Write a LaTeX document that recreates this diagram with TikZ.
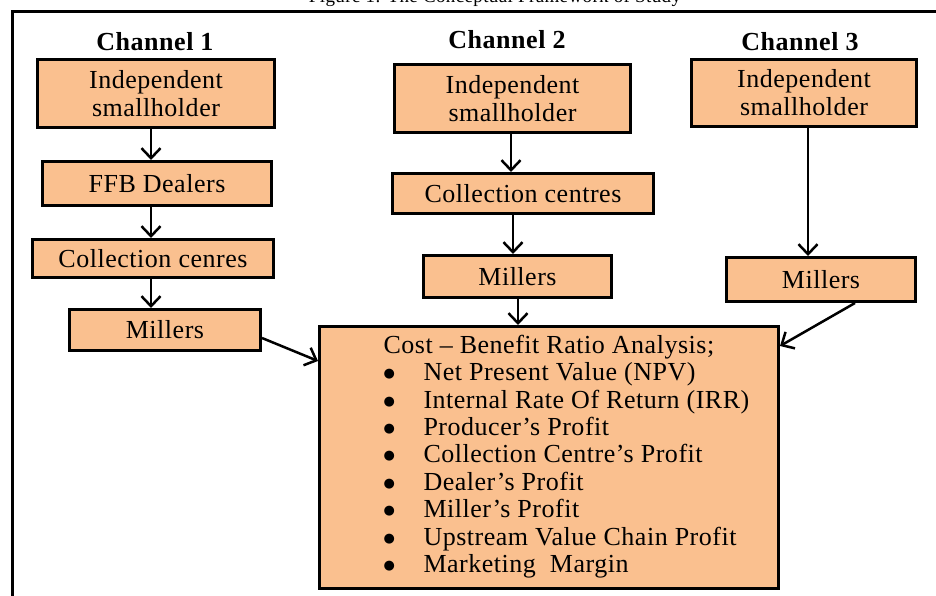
\documentclass[tikz,border=0pt]{standalone}
\usepackage{fontspec}
\setmainfont{Liberation Serif}[LetterSpace=2]
\newfontfamily\symfont{DejaVu Sans}
\usetikzlibrary{arrows.meta, positioning}
\definecolor{peach}{RGB}{250,192,143}
\newcommand{\bigdot}{\makebox[40pt][l]{\raisebox{3pt}{\symfont\fontsize{13}{13}\selectfont ●}}}

\begin{document}
\begin{tikzpicture}[x=1pt, y=-1pt,
    stage/.style={rectangle, draw=black, line width=3pt, fill=peach, inner sep=0pt, align=center, font=\fontsize{26}{28}\selectfont},
    result/.style={rectangle, draw=black, line width=3pt, fill=peach, inner sep=0pt, font=\fontsize{26}{27.4}\selectfont},
    channel/.style={font=\fontsize{26}{28}\selectfont\bfseries},
    arrow/.style={-{Straight Barb[length=10pt, width=19pt]}, line width=2.5pt}
]
\useasboundingbox (0,0) rectangle (936,596);
\clip (0,0) rectangle (936,596);

% ==== Frame and caption ====
\node[font=\fontsize{19}{20}\selectfont, anchor=base] (title) at (495,3) {Figure 1: The Conceptual Framework of Study};
\draw[line width=3pt] (12,12) rectangle (980,640);

% ==== Channel 1 ====
\node[channel] (lbl1) at (155,42) {Channel 1};
\node[stage, minimum width=237pt, minimum height=68pt] (ind1) at (156,93.5) {Independent\\smallholder};
\node[stage, minimum width=229pt, minimum height=44pt] (ffb) at (157,183.5) {FFB Dealers};
\node[stage, minimum width=241pt, minimum height=38pt] (col1) at (153,258.5) {Collection cenres};
\node[stage, minimum width=191pt, minimum height=41pt] (mil1) at (165,330) {Millers};

% ==== Channel 2 ====
\node[channel] (lbl2) at (507,40) {Channel 2};
\node[stage, minimum width=236pt, minimum height=68pt] (ind2) at (512.5,98.5) {Independent\\smallholder};
\node[stage, minimum width=261pt, minimum height=40pt] (col2) at (523,193.5) {Collection centres};
\node[stage, minimum width=188pt, minimum height=42pt] (mil2) at (517.5,276.5) {Millers};

% ==== Channel 3 ====
\node[channel] (lbl3) at (800,42) {Channel 3};
\node[stage, minimum width=225pt, minimum height=67pt] (ind3) at (804,93) {Independent\\smallholder};
\node[stage, minimum width=189pt, minimum height=44pt] (mil3) at (821,279.5) {Millers};

% ==== Analysis ====
\node[result, minimum width=459pt, minimum height=262pt] (cba) at (549,457.5) {%
\begin{tabular}{@{\hspace{61pt}}p{392pt}@{}}
Cost – Benefit Ratio Analysis;\\
\bigdot Net Present Value (NPV)\\
\bigdot Internal Rate Of Return (IRR)\\
\bigdot Producer’s Profit\\
\bigdot Collection Centre’s Profit\\
\bigdot Dealer’s Profit\\
\bigdot Miller’s Profit\\
\bigdot Upstream Value Chain Profit\\
\bigdot Marketing~ Margin
\end{tabular}};

% ==== Relations ====
\coordinate (c1) at (151,0);
\coordinate (c2a) at (511,0);
\coordinate (c2b) at (513,0);
\coordinate (c2c) at (518,0);
\coordinate (c3) at (808,0);
\draw[arrow] (ind1.south -| c1) -- (ffb.north -| c1);
\draw[arrow] (ffb.south -| c1) -- (col1.north -| c1);
\draw[arrow] (col1.south -| c1) -- (mil1.north -| c1);
\draw[arrow] (ind2.south -| c2a) -- (col2.north -| c2a);
\draw[arrow] (col2.south -| c2b) -- (mil2.north -| c2b);
\draw[arrow] (mil2.south -| c2c) -- (cba.north -| c2c);
\draw[arrow] (ind3.south -| c3) -- (mil3.north -| c3);
\draw[arrow] ([yshift=-8pt]mil1.east) -- ([yshift=-36pt]cba.north west);
\draw[arrow] ([xshift=34pt]mil3.south) -- ([yshift=-21pt]cba.north east);

\end{tikzpicture}
\end{document}
